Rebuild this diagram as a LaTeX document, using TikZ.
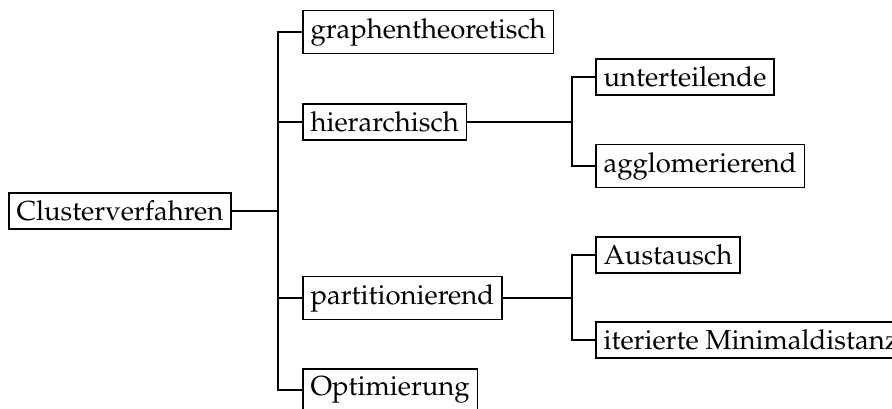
\documentclass[tikz,border=0pt]{standalone}
\usepackage[T1]{fontenc}
\usepackage{mathpazo}

\tikzset{box/.style={draw, anchor=west, inner sep=2.8pt}}

\begin{document}
\begin{tikzpicture} [x=0.3636pt,y=-0.3636pt,line width=0.6pt]
\useasboundingbox (0,0) rectangle (892,408);

\node [box] (cluster) at (8,211) {Clusterverfahren};

\node [box] (graph) at (302,32) {graphentheoretisch};
\node [box] (hier) at (302,122) {hierarchisch};
\node [box] (part) at (302,298) {partitionierend};
\node [box] (opt) at (302,390) {Optimierung};


\node [box] (unter) at (595,77) {unterteilende};
\node [box] (agglo) at (595,166) {agglomerierend};

\node [box] (aust) at (595,255) {Austausch};
\node [box] (iter) at (595,340) {iterierte Minimaldistanz};


% the first level
\coordinate (fork) at (278,211);
\draw (cluster) -- (fork);
\draw (fork) |- (graph);
\draw (fork) |- (hier);
\draw (fork) |- (part);
\draw (fork) |- (opt);


% the second level
\coordinate (hfork) at (572,122);
\draw (hier) -- (hfork);
\draw (hfork) |- (unter);
\draw (hfork) |- (agglo);

\coordinate (pfork) at (572,298);
\draw (part) -- (pfork);
\draw (pfork) |- (aust);
\draw (pfork) |- (iter);


%\draw [help lines] (0,0) grid (892,408);
\end{tikzpicture}
\end{document}
